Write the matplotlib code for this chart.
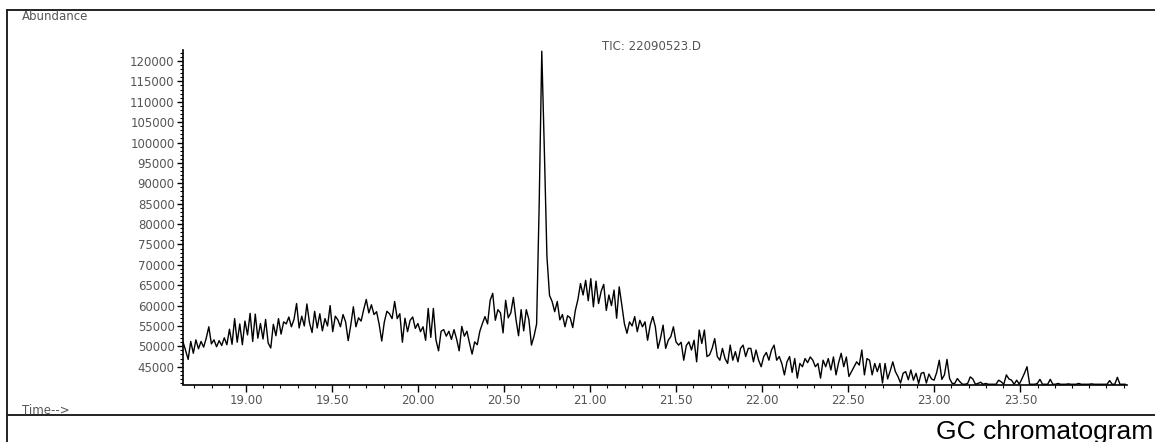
import numpy as np
import matplotlib
matplotlib.use('Agg')
import matplotlib.pyplot as plt
from matplotlib.ticker import MultipleLocator, FormatStrFormatter
from matplotlib.lines import Line2D

# TIC trace (abundance in thousands, one value per scan)
scan_start = 18.634   # min
scan_step = 0.015     # min per scan

tic_k = [
    51.1, 49.0, 46.8, 51.2, 48.3, 51.6, 49.4, 51.2, 49.8, 52.0, 54.8, 50.6, 51.6, 49.9, 51.4, 50.2, 52.1, 50.4, 54.2, 50.5,
    56.8, 51.0, 55.5, 50.4, 56.2, 52.8, 58.1, 51.2, 57.9, 52.0, 55.6, 51.8, 56.6, 50.8, 49.6, 55.4, 52.6, 56.8, 53.0, 56.0,
    55.5, 57.2, 54.8, 56.6, 60.5, 54.5, 57.4, 55.0, 60.4, 55.8, 53.4, 58.6, 54.5, 58.0, 53.8, 56.8, 55.0, 60.0, 53.6, 57.4,
    56.5, 54.8, 57.8, 56.0, 51.4, 55.2, 59.7, 54.8, 57.0, 56.2, 59.0, 61.5, 58.2, 60.2, 57.8, 58.5, 55.4, 51.3, 56.0, 58.6,
    58.0, 56.8, 61.0, 56.8, 58.0, 51.0, 56.9, 53.6, 56.4, 57.2, 54.4, 55.6, 53.6, 54.8, 51.5, 59.3, 52.2, 59.3, 51.6, 48.9,
    53.7, 54.1, 52.5, 53.7, 51.7, 54.1, 51.8, 48.9, 54.9, 52.5, 53.7, 50.8, 48.1, 51.1, 50.4, 53.7, 55.6, 57.3, 55.5, 61.3,
    63.0, 56.4, 59.0, 58.2, 53.3, 61.3, 57.0, 58.2, 62.0, 56.6, 52.6, 59.0, 53.8, 59.0, 56.6, 50.3, 52.5, 55.5, 85.0, 122.4,
    98.0, 72.0, 62.5, 61.0, 58.5, 61.0, 56.5, 57.8, 54.8, 57.5, 57.0, 54.6, 58.8, 61.5, 65.4, 62.6, 66.2, 61.2, 66.6, 59.7,
    66.0, 60.5, 63.5, 65.2, 58.8, 62.6, 60.0, 63.8, 56.9, 64.6, 60.2, 55.6, 53.2, 56.0, 55.0, 57.3, 53.6, 56.4, 54.8, 56.0,
    51.5, 55.2, 57.3, 54.8, 49.5, 52.0, 55.2, 49.5, 51.5, 52.4, 54.8, 51.1, 50.3, 51.0, 46.6, 50.2, 51.1, 49.1, 51.5, 46.2,
    54.0, 50.7, 54.0, 47.5, 47.9, 49.5, 51.9, 47.5, 46.6, 49.5, 47.0, 45.8, 50.3, 46.6, 48.7, 46.2, 49.5, 50.3, 47.5, 49.5,
    49.5, 46.2, 49.1, 46.6, 45.0, 47.5, 48.5, 46.6, 49.1, 50.3, 46.6, 47.5, 45.8, 43.0, 46.2, 47.5, 43.6, 47.0, 42.2, 45.8,
    45.0, 47.0, 46.0, 47.4, 46.6, 45.0, 45.8, 42.2, 46.6, 45.0, 47.0, 44.2, 47.4, 43.0, 46.0, 48.3, 45.0, 47.4, 42.6, 43.8,
    45.0, 46.2, 45.4, 49.1, 43.0, 47.0, 46.6, 43.0, 45.8, 43.8, 45.8, 41.0, 45.8, 42.0, 44.0, 46.2, 43.8, 42.6, 41.0, 43.4,
    43.8, 41.8, 44.2, 41.7, 43.4, 40.9, 43.4, 43.6, 41.0, 43.2, 42.0, 41.7, 43.6, 46.6, 41.9, 43.0, 46.8, 42.1, 40.9, 40.9,
    42.1, 41.3, 40.7, 40.7, 40.9, 42.5, 42.0, 40.7, 40.9, 41.2, 40.7, 40.9, 40.7, 40.7, 40.7, 40.7, 41.7, 41.3, 40.7, 43.0,
    42.0, 41.7, 40.7, 41.7, 40.7, 42.0, 43.4, 45.0, 40.7, 40.7, 40.7, 40.9, 41.9, 40.7, 40.7, 40.7, 41.9, 40.7, 40.7, 40.9,
    40.7, 40.7, 40.7, 40.8, 40.7, 40.7, 40.7, 40.9, 40.7, 40.7, 40.7, 40.7, 40.8, 40.7, 40.7, 40.7, 40.7, 40.7, 40.7, 41.6,
    40.7, 40.7, 42.4, 40.7, 40.7, 40.7,
]

y_major = list(range(45000, 120001, 5000))
x_major = [19.0, 19.5, 20.0, 20.5, 21.0, 21.5, 22.0, 22.5, 23.0, 23.5]

times = scan_start + scan_step * np.arange(len(tic_k))
abundance = np.array(tic_k) * 1000.0

W, H = 1155, 442
GRAY = '#555555'

fig = plt.figure(figsize=(W / 100, H / 100), dpi=100)
fig.patch.set_facecolor('white')

# axes box in pixels: left 183, right 1127, top 50, bottom 384.5
ax = fig.add_axes([183 / W, 1 - 384.5 / H, (1127 - 183) / W, (384.5 - 50) / H])
ax.plot(times, abundance, color='black', lw=1.0)

ax.set_xlim(18.634, 24.12)
ax.set_ylim(40640, 122700)
for s in ('top', 'right'):
    ax.spines[s].set_visible(False)
for s in ('left', 'bottom'):
    ax.spines[s].set_linewidth(1.2)

ax.set_yticks(y_major)
ax.yaxis.set_minor_locator(MultipleLocator(1000))
ax.yaxis.set_major_formatter(FormatStrFormatter('%d'))
ax.set_xticks(x_major)
ax.xaxis.set_minor_locator(MultipleLocator(0.1))
ax.xaxis.set_major_formatter(FormatStrFormatter('%.2f'))

ax.tick_params(axis='both', which='major', direction='out', length=4, width=1.0,
               labelsize=8.5, labelcolor=GRAY, pad=2)
ax.tick_params(axis='both', which='minor', direction='out', length=2, width=0.8)
ax.tick_params(axis='x', which='major', length=5)

# titles and frame
fig.text(22 / W, 1 - 16 / H, 'Abundance', fontsize=8.5, color=GRAY, ha='left', va='center')
fig.text(602 / W, 1 - 46 / H, 'TIC: 22090523.D', fontsize=8.5, color=GRAY, ha='left', va='center')
fig.text(22 / W, 1 - 410 / H, 'Time-->', fontsize=8.5, color=GRAY, ha='left', va='center')
fig.text(1153 / W, 1 - 439 / H, 'GC chromatogram', fontsize=19, color='black',
         family='Liberation Sans', ha='right', va='baseline')

def fline(x0, y0, x1, y1, c='#222222', lw=1.4):
    fig.add_artist(Line2D([x0 / W, x1 / W], [1 - y0 / H, 1 - y1 / H],
                          transform=fig.transFigure, color=c, lw=lw))

fline(7, 10, W, 10)
fline(7, 10, 7, H)
fline(7, 415, W, 415)

fig.savefig('out.png', dpi=100)
